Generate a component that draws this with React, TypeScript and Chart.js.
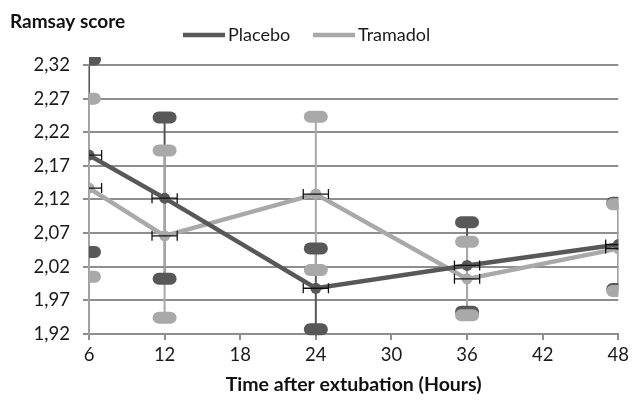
import React, { useEffect, useRef } from "react";
import { Chart, registerables } from "chart.js";

Chart.register(...registerables);

const hours = [6, 12, 24, 36, 48];
const placeboMean = [2.186, 2.122, 1.988, 2.022, 2.053];
const placeboUpper = [2.328, 2.242, 2.047, 2.086, 2.115];
const placeboLower = [2.042, 2.002, 1.927, 1.953, 1.987];
const tramadolMean = [2.137, 2.066, 2.128, 2.002, 2.047];
const tramadolUpper = [2.27, 2.193, 2.243, 2.057, 2.113];
const tramadolLower = [2.005, 1.944, 2.015, 1.948, 1.984];
const hourErr = [1, 1, 1, 1, 1];
const yTicks = [1.92, 1.97, 2.02, 2.07, 2.12, 2.17, 2.22, 2.27, 2.32];
const xTicks = [6, 12, 18, 24, 30, 36, 42, 48];
const seriesNames = ["Placebo", "Tramadol"];
const yTitle = "Ramsay score";
const xTitle = "Time after extubation (Hours)";

const DARK = "#585858";
const LIGHT = "#a9a9a9";
const GRID = "#8e8e8e";
const FONT = "Lato, 'DejaVu Sans', sans-serif";

function roundRect(ctx: CanvasRenderingContext2D, x: number, y: number, w: number, h: number, r: number) {
  ctx.beginPath();
  ctx.moveTo(x + r, y);
  ctx.lineTo(x + w - r, y);
  ctx.arc(x + w - r, y + r, r, -Math.PI / 2, 0);
  ctx.lineTo(x + w, y + h - r);
  ctx.arc(x + w - r, y + h - r, r, 0, Math.PI / 2);
  ctx.lineTo(x + r, y + h);
  ctx.arc(x + r, y + h - r, r, Math.PI / 2, Math.PI);
  ctx.lineTo(x, y + r);
  ctx.arc(x + r, y + r, r, Math.PI, Math.PI * 1.5);
  ctx.closePath();
}

const errorBarPlugin = {
  id: "errorBars",
  beforeDatasetsDraw(chart: any) {
    const { ctx, chartArea, scales } = chart;
    const xs = scales.x;
    const ys = scales.y;
    const groups = [
      { up: placeboUpper, lo: placeboLower, color: DARK },
      { up: tramadolUpper, lo: tramadolLower, color: LIGHT },
    ];
    ctx.save();
    ctx.beginPath();
    ctx.rect(chartArea.left, 57, chartArea.right - chartArea.left, chart.height);
    ctx.clip();
    groups.forEach((g) => {
      ctx.strokeStyle = g.color;
      ctx.lineWidth = 2;
      hours.forEach((h, i) => {
        const x = xs.getPixelForValue(h);
        ctx.beginPath();
        ctx.moveTo(x, ys.getPixelForValue(g.up[i]));
        ctx.lineTo(x, ys.getPixelForValue(g.lo[i]));
        ctx.stroke();
      });
    });
    groups.forEach((g) => {
      ctx.fillStyle = g.color;
      hours.forEach((h, i) => {
        const x = xs.getPixelForValue(h);
        [g.up[i], g.lo[i]].forEach((v) => {
          const y = ys.getPixelForValue(v);
          roundRect(ctx, x - 12, y - 6, 24, 12, 6);
          ctx.fill();
        });
      });
    });
    ctx.restore();
  },
  afterDatasetsDraw(chart: any) {
    const { ctx, chartArea, scales } = chart;
    const xs = scales.x;
    const ys = scales.y;
    ctx.save();
    ctx.beginPath();
    ctx.rect(chartArea.left, 0, chartArea.right - chartArea.left, chart.height);
    ctx.clip();
    ctx.strokeStyle = "#111";
    ctx.lineWidth = 1.3;
    [placeboMean, tramadolMean].forEach((means) => {
      hours.forEach((h, i) => {
        const y = ys.getPixelForValue(means[i]);
        const x1 = xs.getPixelForValue(h - hourErr[i]);
        const x2 = xs.getPixelForValue(h + hourErr[i]);
        ctx.beginPath();
        ctx.moveTo(x1, y);
        ctx.lineTo(x2, y);
        ctx.moveTo(x1, y - 5);
        ctx.lineTo(x1, y + 5);
        ctx.moveTo(x2, y - 5);
        ctx.lineTo(x2, y + 5);
        ctx.stroke();
      });
    });
    ctx.restore();
  },
  afterDraw(chart: any) {
    const { ctx, chartArea } = chart;
    ctx.save();
    ctx.fillStyle = "#111";
    ctx.textBaseline = "middle";
    ctx.font = `bold 19px ${FONT}`;
    ctx.textAlign = "left";
    ctx.fillText(yTitle, 10, 22);
    ctx.font = `bold 19.5px ${FONT}`;
    ctx.textAlign = "center";
    ctx.fillText(xTitle, (chartArea.left + chartArea.right) / 2, 385);
    ctx.font = `18px ${FONT}`;
    ctx.textAlign = "left";
    const items = [
      { name: seriesNames[0], color: DARK, x: 183 },
      { name: seriesNames[1], color: LIGHT, x: 313 },
    ];
    items.forEach((it) => {
      ctx.strokeStyle = it.color;
      ctx.lineWidth = 4.5;
      ctx.beginPath();
      ctx.moveTo(it.x, 35);
      ctx.lineTo(it.x + 42, 35);
      ctx.stroke();
      ctx.fillStyle = "#1a1a1a";
      ctx.fillText(it.name, it.x + 45, 35);
    });
    ctx.restore();
  },
};

export default function App() {
  const ref = useRef<HTMLCanvasElement | null>(null);
  useEffect(() => {
    document.body.style.margin = "0";
    if (!ref.current) return;
    const chart = new Chart(ref.current, {
      type: "line",
      data: {
        datasets: [
          {
            label: seriesNames[0],
            data: hours.map((h, i) => ({ x: h, y: placeboMean[i] })),
            borderColor: DARK,
            backgroundColor: DARK,
            borderWidth: 4.5,
            pointRadius: 5.5,
            pointBackgroundColor: DARK,
            pointBorderWidth: 0,
            tension: 0,
          },
          {
            label: seriesNames[1],
            data: hours.map((h, i) => ({ x: h, y: tramadolMean[i] })),
            borderColor: LIGHT,
            backgroundColor: LIGHT,
            borderWidth: 4.5,
            pointRadius: 5.5,
            pointBackgroundColor: LIGHT,
            pointBorderWidth: 0,
            tension: 0,
          },
        ],
      },
      options: {
        animation: false,
        responsive: false,
        maintainAspectRatio: false,
        layout: { padding: { top: 65, right: 12, bottom: 0, left: 0 } },
        plugins: {
          legend: { display: false },
          tooltip: { enabled: false },
          title: { display: false },
        },
        scales: {
          x: {
            type: "linear",
            min: 6,
            max: 48,
            afterBuildTicks: (axis: any) => {
              axis.ticks = xTicks.map((v) => ({ value: v }));
            },
            afterFit: (scale: any) => {
              scale.height = 68;
            },
            grid: {
              drawOnChartArea: false,
              drawTicks: true,
              tickLength: 6,
              color: GRID,
              lineWidth: 2,
            },
            border: { display: true, color: GRID, width: 2 },
            ticks: {
              color: "#1a1a1a",
              font: { family: FONT, size: 18.5 },
              padding: 4,
              maxRotation: 0,
              autoSkip: false,
            },
          },
          y: {
            type: "linear",
            min: 1.92,
            max: 2.32,
            afterBuildTicks: (axis: any) => {
              axis.ticks = yTicks.map((v) => ({ value: v }));
            },
            afterFit: (scale: any) => {
              scale.width = 89;
            },
            grid: {
              color: GRID,
              lineWidth: 2,
              drawTicks: true,
              tickLength: 6,
            },
            border: { display: true, color: "#a0a0a0", width: 2 },
            ticks: {
              color: "#1a1a1a",
              font: { family: FONT, size: 18.5 },
              padding: 13,
              autoSkip: false,
              callback: (v: any) => Number(v).toFixed(2).replace(".", ","),
            },
          },
        },
      },
      plugins: [errorBarPlugin],
    } as any);
    return () => chart.destroy();
  }, []);
  return (
    <div style={{ position: "absolute", left: 0, top: 0, width: 633, height: 402, background: "#fff" }}>
      <canvas ref={ref} width={633} height={402} style={{ width: 633, height: 402 }} />
    </div>
  );
}
